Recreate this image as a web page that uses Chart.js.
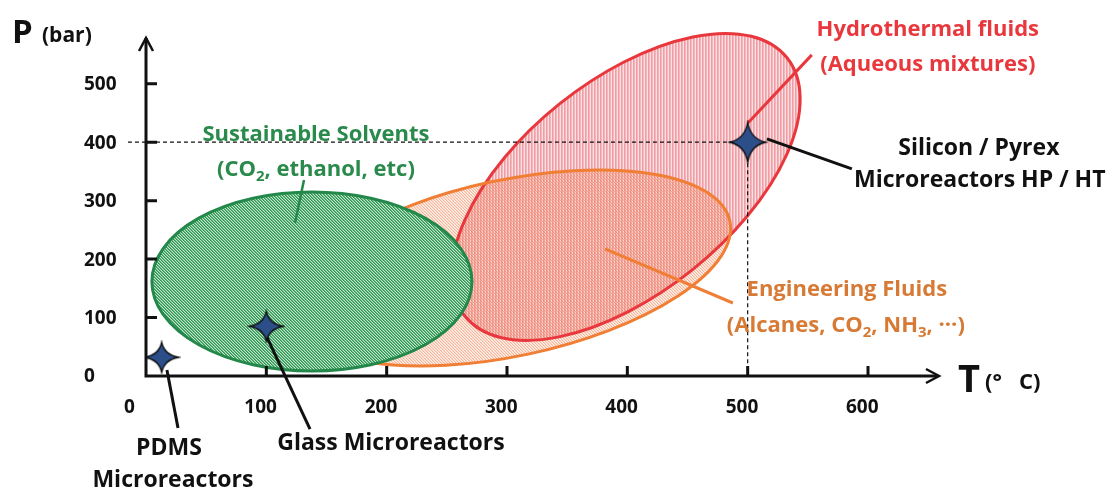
<!DOCTYPE html>
<html>
<head>
<meta charset="utf-8">
<script src="https://cdn.jsdelivr.net/npm/chart.js@4.4.1/dist/chart.umd.min.js"></script>
<style>
  html, body { margin: 0; padding: 0; background: #ffffff; }
  #wrap { width: 1107px; height: 491px; position: relative; }
</style>
</head>
<body>
<div id="wrap"><canvas id="chart"></canvas></div>
<script>
// Operating windows (temperature / pressure) of microreactor materials and fluid families

// Axis ticks
const tempTicks = [0, 100, 200, 300, 400, 500, 600];
const pressTicks = [0, 100, 200, 300, 400, 500];

// Microreactor materials: max operating point (T in °C, P in bar)
const reactorNames = ['PDMS Microreactors', 'Glass Microreactors', 'Silicon / Pyrex Microreactors HP / HT'];
const reactorT = [13, 100, 500];
const reactorP = [32, 85, 400];

// Fluid domains as ellipses: centre, end of first semi-axis, end of second semi-axis (T, P)
const fluidNames = ['Hydrothermal fluids', 'Engineering Fluids', 'Sustainable Solvents'];
const fluidCenterT = [398.8, 302.4, 137.9];
const fluidCenterP = [323.5, 184.8, 161.7];
const fluidAxis1T = [532.7, 485.2, 270.9];
const fluidAxis1P = [544.4, 264.9, 161.7];
const fluidAxis2T = [343.6, 287.2, 137.9];
const fluidAxis2P = [465.5, 332.2, 314.9];

// ---- styling -------------------------------------------------------------
const FONT = '"Open Sans", "DejaVu Sans", sans-serif';
const RED = '#e8383d', RED_TXT = '#e8383d';
const ORANGE = '#f07f35', ORANGE_TXT = '#d67a35';
const GREEN = '#23884a', GREEN_TXT = '#2a8a4b';
const INK = '#111111';

// Text annotations, placed in (T, P) units; '_x' marks a subscript character
const notes = [
  { text: 'Hydrothermal fluids', t: 649.7, p: 592.2, color: RED_TXT, size: 22 },
  { text: '(Aqueous mixtures)', t: 649.7, p: 532.3, color: RED_TXT, size: 22 },
  { text: 'Sustainable Solvents', t: 141.2, p: 412.5, color: GREEN_TXT, size: 22 },
  { text: '(CO_2, ethanol, etc)', t: 141.2, p: 352.6, color: GREEN_TXT, size: 22 },
  { text: 'Engineering Fluids', t: 582.4, p: 147.2, color: ORANGE_TXT, size: 22 },
  { text: '(Alcanes, CO_2, NH_3, \u00B7\u00B7\u00B7)', t: 581.6, p: 85.6, color: ORANGE_TXT, size: 22 },
  { text: 'Silicon / Pyrex', t: 692.1, p: 390.0, color: INK, size: 23 },
  { text: 'Microreactors HP / HT', t: 692.9, p: 334.0, color: INK, size: 23 },
  { text: 'PDMS', t: 19.1, p: -123.5, color: INK, size: 23 },
  { text: 'Microreactors', t: 22.4, p: -178.5, color: INK, size: 23 },
  { text: 'Glass Microreactors', t: 203.6, p: -115.7, color: INK, size: 23 }
];

// Leader lines from labels to marks, in (T, P) units
const leaders = [
  { from: [17.4, 10.3], to: [26.6, -89.0], color: INK, width: 3 },
  { from: [100.5, 66.7], to: [136.3, -90.7], color: INK, width: 3 },
  { from: [516.0, 405.6], to: [586.6, 354.3], color: INK, width: 3 },
  { from: [131.3, 335.4], to: [123.8, 261.9], color: GREEN, width: 2.5 },
  { from: [381.4, 217.4], to: [487.7, 124.9], color: ORANGE, width: 3 },
  { from: [553.3, 549.4], to: [500.2, 433.0], color: RED, width: 3 }
];

// ---- hatch patterns --------------------------------------------------------
function tile(w, h, paint) {
  const c = document.createElement('canvas');
  c.width = w; c.height = h;
  const g = c.getContext('2d');
  for (let y = 0; y < h; y++) for (let x = 0; x < w; x++) {
    const col = paint(x, y);
    if (col) { g.fillStyle = col; g.fillRect(x, y, 1, 1); }
  }
  return c;
}
const greenTile = tile(3, 3, (x, y) => ['#2e9252', '#62b77e', '#c6e7ce'][((x - y) % 3 + 3) % 3]);
const orangeTile = tile(3, 3, (x, y) => ['rgba(240,120,70,0.55)', 'rgba(244,140,95,0.32)', 'rgba(250,180,150,0.18)'][((x - y) % 3 + 3) % 3]);
const redTile = tile(3, 1, (x) => ['#ef9ea6', '#f4b5bb', '#fbe0e3'][x]);

// ---- 4-point star marker ---------------------------------------------------
function starCanvas(rx, ry) {
  const w = Math.ceil(rx * 2 + 4), h = Math.ceil(ry * 2 + 4);
  const c = document.createElement('canvas');
  c.width = w; c.height = h;
  const g = c.getContext('2d');
  g.translate(w / 2, h / 2);
  const k = 0.16;
  g.beginPath();
  g.moveTo(0, -ry);
  g.quadraticCurveTo(rx * k, -ry * k, rx, 0);
  g.quadraticCurveTo(rx * k, ry * k, 0, ry);
  g.quadraticCurveTo(-rx * k, ry * k, -rx, 0);
  g.quadraticCurveTo(-rx * k, -ry * k, 0, -ry);
  g.closePath();
  g.fillStyle = '#2c4f8a';
  g.fill();
  g.lineWidth = 1.3;
  g.strokeStyle = '#0d0d0d';
  g.stroke();
  return c;
}
const smallStar = starCanvas(17, 15);
const bigStar = starCanvas(18, 20);

// ---- drawing helpers -------------------------------------------------------
function richText(ctx, str, cx, cy, size, color) {
  const segs = [];
  for (let i = 0; i < str.length; i++) {
    if (str[i] === '_' && i + 1 < str.length) { segs.push({ t: str[i + 1], sub: true }); i++; }
    else if (segs.length && !segs[segs.length - 1].sub) segs[segs.length - 1].t += str[i];
    else segs.push({ t: str[i], sub: false });
  }
  let total = 0;
  segs.forEach(s => {
    ctx.font = `bold ${s.sub ? Math.round(size * 0.68) : size}px ${FONT}`;
    s.w = ctx.measureText(s.t).width;
    total += s.w;
  });
  let x = cx - total / 2;
  ctx.fillStyle = color;
  ctx.textAlign = 'left';
  ctx.textBaseline = 'middle';
  segs.forEach(s => {
    ctx.font = `bold ${s.sub ? Math.round(size * 0.68) : size}px ${FONT}`;
    ctx.fillText(s.t, x, cy + (s.sub ? size * 0.3 : 0));
    x += s.w;
  });
}

function ellipsePath(ctx, c, a, b) {
  ctx.save();
  ctx.beginPath();
  ctx.transform(a.x - c.x, a.y - c.y, b.x - c.x, b.y - c.y, c.x, c.y);
  ctx.arc(0, 0, 1, 0, Math.PI * 2);
  ctx.restore();
}

const diagram = {
  id: 'diagram',
  beforeDatasetsDraw(chart) {
    const ctx = chart.ctx, sx = chart.scales.x, sy = chart.scales.y;
    const P = (t, p) => ({ x: sx.getPixelForValue(t), y: sy.getPixelForValue(p) });
    const shape = i => ellipsePath(ctx,
      P(fluidCenterT[i], fluidCenterP[i]),
      P(fluidAxis1T[i], fluidAxis1P[i]),
      P(fluidAxis2T[i], fluidAxis2P[i]));
    const fills = [ctx.createPattern(redTile, 'repeat'), ctx.createPattern(orangeTile, 'repeat'), ctx.createPattern(greenTile, 'repeat')];
    const strokes = [RED, ORANGE, GREEN];

    ctx.save();
    ctx.lineWidth = 3;
    // hydrothermal + engineering fluids overlap, both outlines stay visible
    [0, 1].forEach(i => { shape(i); ctx.fillStyle = fills[i]; ctx.fill(); });
    [0, 1].forEach(i => { shape(i); ctx.strokeStyle = strokes[i]; ctx.stroke(); });
    // sustainable solvents on top
    shape(2); ctx.fillStyle = fills[2]; ctx.fill();
    ctx.strokeStyle = strokes[2]; ctx.stroke();

    // dashed guides to the silicon / pyrex operating point
    const hp = reactorP[2], ht = reactorT[2];
    ctx.setLineDash([4, 3]);
    ctx.lineWidth = 1.2;
    ctx.strokeStyle = INK;
    let a = P(-15, hp), b = P(ht, hp);
    ctx.beginPath(); ctx.moveTo(a.x, a.y); ctx.lineTo(b.x, b.y); ctx.stroke();
    a = P(ht, hp); b = P(ht, 0);
    ctx.beginPath(); ctx.moveTo(a.x, a.y); ctx.lineTo(b.x, b.y); ctx.stroke();
    ctx.setLineDash([]);

    // leader lines
    ctx.lineCap = 'butt';
    leaders.forEach(l => {
      const f = P(l.from[0], l.from[1]), t = P(l.to[0], l.to[1]);
      ctx.strokeStyle = l.color; ctx.lineWidth = l.width;
      ctx.beginPath(); ctx.moveTo(f.x, f.y); ctx.lineTo(t.x, t.y); ctx.stroke();
    });
    ctx.restore();
  },
  afterDatasetsDraw(chart) {
    const ctx = chart.ctx, sx = chart.scales.x, sy = chart.scales.y;
    const x0 = sx.getPixelForValue(0), y0 = sy.getPixelForValue(0);
    const xEnd = sx.right, yEnd = sy.top;
    ctx.save();
    ctx.strokeStyle = INK;
    ctx.lineWidth = 3;
    ctx.lineCap = 'butt';
    // axes
    ctx.beginPath();
    ctx.moveTo(x0, yEnd + 1); ctx.lineTo(x0, y0 + 1.5);
    ctx.moveTo(x0 - 1.5, y0); ctx.lineTo(xEnd - 1, y0);
    ctx.stroke();
    // arrow heads
    ctx.lineWidth = 2.5;
    ctx.lineJoin = 'miter';
    ctx.beginPath();
    ctx.moveTo(x0 - 7, yEnd + 14); ctx.lineTo(x0, yEnd + 1); ctx.lineTo(x0 + 7, yEnd + 14);
    ctx.moveTo(xEnd - 13, y0 - 7); ctx.lineTo(xEnd, y0); ctx.lineTo(xEnd - 13, y0 + 7);
    ctx.stroke();
    // inner tick marks
    ctx.lineWidth = 3;
    ctx.beginPath();
    pressTicks.filter(v => v > 0).forEach(v => {
      const y = sy.getPixelForValue(v);
      ctx.moveTo(x0, y); ctx.lineTo(x0 + 11, y);
    });
    tempTicks.filter(v => v > 0).forEach(v => {
      const x = sx.getPixelForValue(v);
      ctx.moveTo(x, y0); ctx.lineTo(x, y0 - 10);
    });
    ctx.stroke();

    // tick labels
    ctx.fillStyle = INK;
    ctx.font = `bold 19px ${FONT}`;
    ctx.textBaseline = 'middle';
    ctx.textAlign = 'left';
    pressTicks.forEach(v => ctx.fillText(String(v), x0 - 62, sy.getPixelForValue(v) + 1));
    tempTicks.forEach(v => ctx.fillText(String(v), sx.getPixelForValue(v) - 22, y0 + 32));

    // axis titles
    ctx.textBaseline = 'alphabetic';
    ctx.font = `bold 33px ${FONT}`;
    ctx.fillText('P', x0 - 134, yEnd + 6);
    ctx.font = `bold 21px ${FONT}`;
    ctx.fillText('(bar)', x0 - 104, yEnd + 5);
    ctx.font = `bold 38px ${FONT}`;
    ctx.fillText('T', xEnd + 19, y0 + 16);
    ctx.font = `bold 22px ${FONT}`;
    ctx.fillText('(\u00B0   C)', xEnd + 46, y0 + 13);

    // annotations
    notes.forEach(n => richText(ctx, n.text, sx.getPixelForValue(n.t), sy.getPixelForValue(n.p), n.size, n.color));
    ctx.restore();
  }
};

new Chart(document.getElementById('chart'), {
  type: 'scatter',
  data: {
    datasets: [{
      label: 'Microreactors',
      data: reactorT.map((t, i) => ({ x: t, y: reactorP[i] })),
      pointStyle: ctx => (ctx.dataIndex === 2 ? bigStar : smallStar),
      pointRadius: 18,
      pointHoverRadius: 18
    }]
  },
  options: {
    responsive: true,
    maintainAspectRatio: false,
    animation: false,
    events: [],
    layout: { padding: { left: 146, right: 168, top: 37, bottom: 115 } },
    plugins: { legend: { display: false }, tooltip: { enabled: false } },
    scales: {
      x: { type: 'linear', min: 0, max: 659, display: false },
      y: { type: 'linear', min: 0, max: 580, display: false }
    }
  },
  plugins: [diagram]
});
</script>
</body>
</html>
